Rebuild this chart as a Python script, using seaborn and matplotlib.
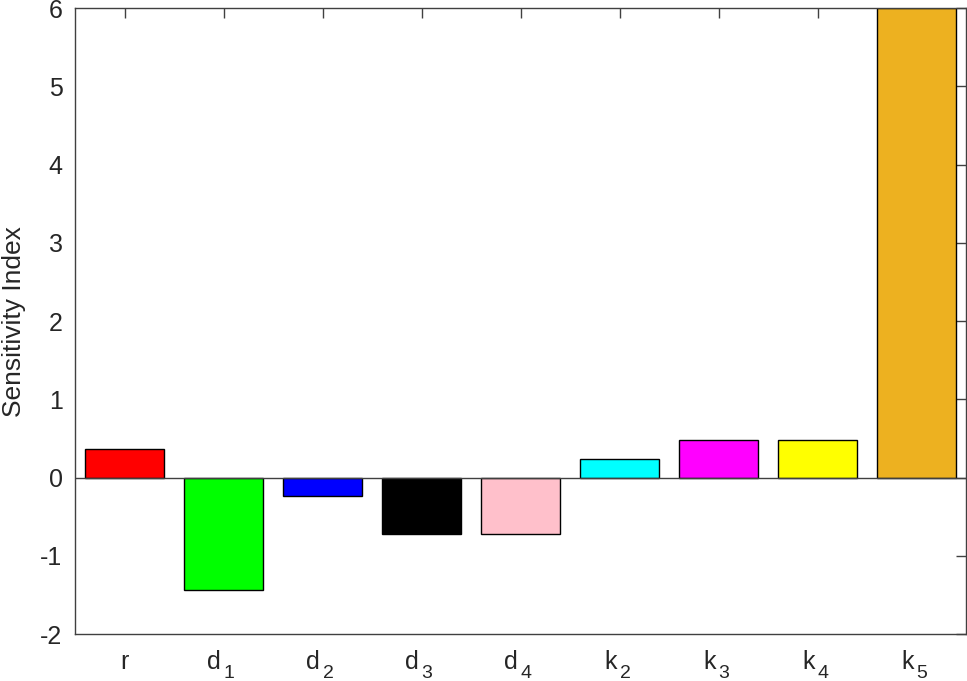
import pandas as pd
import matplotlib
matplotlib.use("Agg")
import matplotlib.pyplot as plt
import matplotlib.transforms as mtransforms
import seaborn as sns

# parameter names (letter + subscript) and their sensitivity indices
param_base = ["r", "d", "d", "d", "d", "k", "k", "k", "k"]
param_sub = ["", "1", "2", "3", "4", "2", "3", "4", "5"]
sens_index = [0.36, -1.44, -0.24, -0.72, -0.72, 0.24, 0.48, 0.48, 6.0]
bar_colors = ["#ff0000", "#00ff00", "#0000ff", "#000000", "#ffc0cb",
              "#00ffff", "#ff00ff", "#ffff00", "#edb120"]

params = [b + s for b, s in zip(param_base, param_sub)]
df = pd.DataFrame({"param": params, "value": sens_index})

sns.set_style("white")
plt.rcParams["font.family"] = ["Liberation Sans", "DejaVu Sans"]
plt.rcParams["axes.unicode_minus"] = False

fig = plt.figure(figsize=(9.67, 6.81), dpi=100)
ax = fig.add_axes([0.0776, 0.069, 0.9214, 0.919])

sns.barplot(data=df, x="param", y="value", hue="param", palette=bar_colors,
            legend=False, width=0.8, edgecolor="black", linewidth=1.0,
            saturation=1, ax=ax)

ax.axhline(0, color="#404040", lw=1.0, zorder=1)
ax.set_xlim(-0.5, 8.5)
ax.set_ylim(-2, 6)
ax.set_yticks(range(-2, 7))
ax.set_xlabel("")
ax.set_ylabel("Sensitivity Index", fontsize=19, labelpad=10)

for s in ax.spines.values():
    s.set_visible(True)
    s.set_color("#404040")
    s.set_linewidth(1.0)
ax.tick_params(direction="in", length=7, width=1, color="#404040",
               top=True, right=True, labelsize=18, pad=9)
ax.set_xticks(range(len(params)))
ax.set_xticklabels([])

# matlab-style tick labels: letter with a lowered subscript
trans = mtransforms.blended_transform_factory(ax.transData, ax.transAxes)
for i, (b, s) in enumerate(zip(param_base, param_sub)):
    if s:
        t_base = mtransforms.offset_copy(trans, fig=fig, x=-0.03, y=-0.35)
        ax.text(i, 0, b, transform=t_base, ha="right", va="baseline",
                fontsize=18, clip_on=False)
        t_sub = mtransforms.offset_copy(trans, fig=fig, x=0.0, y=-0.435)
        ax.text(i, 0, s, transform=t_sub, ha="left", va="baseline",
                fontsize=14, clip_on=False)
    else:
        t_base = mtransforms.offset_copy(trans, fig=fig, x=0.0, y=-0.35)
        ax.text(i, 0, b, transform=t_base, ha="center", va="baseline",
                fontsize=18, clip_on=False)

fig.savefig("out.png", dpi=100)
